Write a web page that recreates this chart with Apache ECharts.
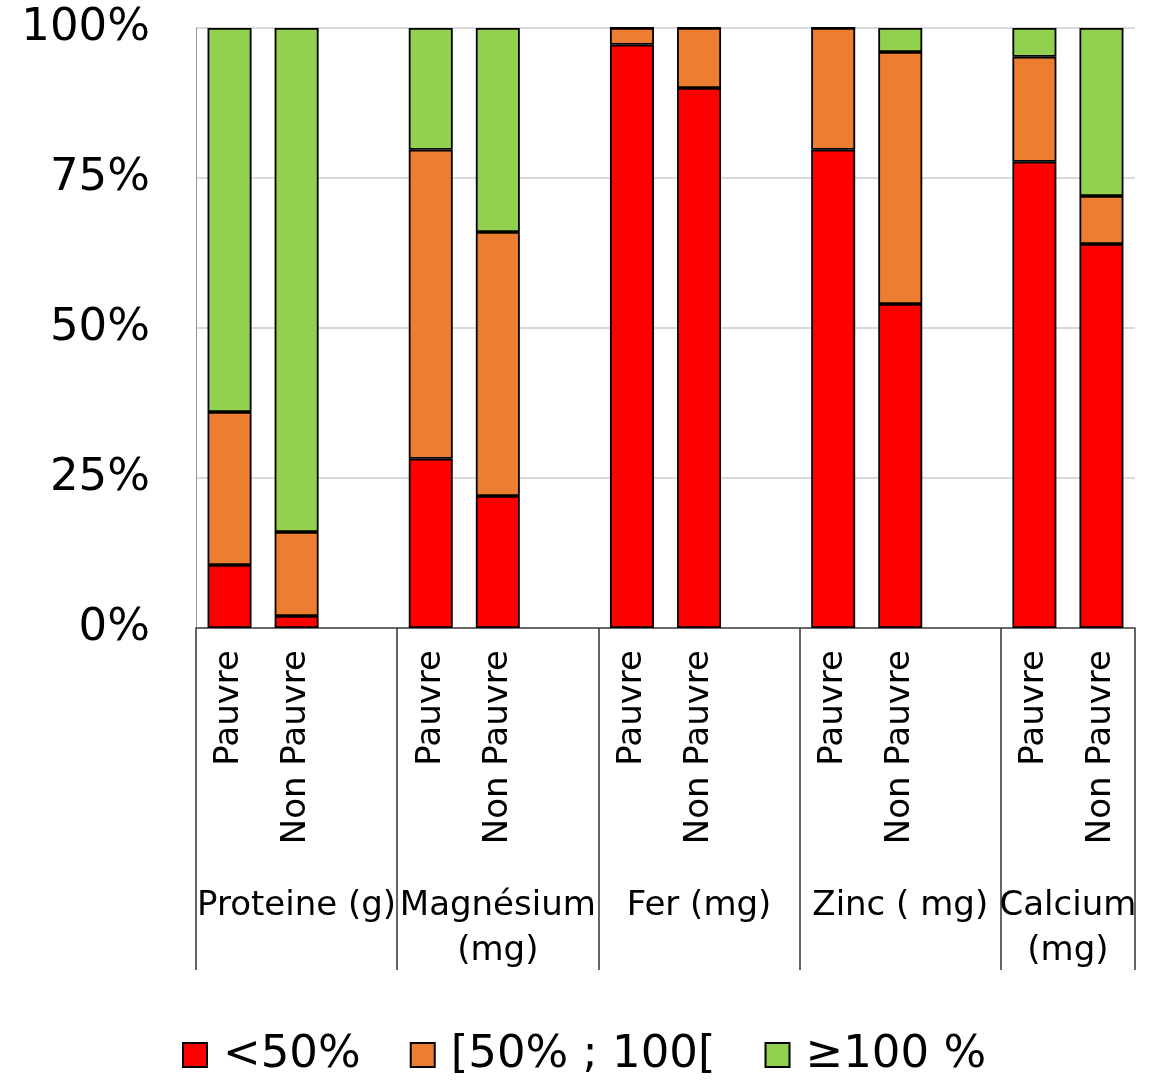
<!DOCTYPE html>
<html><head><meta charset="utf-8">
<script src="https://cdn.jsdelivr.net/npm/echarts@6/dist/echarts.min.js"></script>
<style>html,body{margin:0;padding:0;background:#fff}#c{width:1150px;height:1081px}</style>
</head><body><div id="c"></div>
<script>
const subCategories = ['Pauvre','Non Pauvre','','Pauvre','Non Pauvre','','Pauvre','Non Pauvre','','Pauvre','Non Pauvre','','Pauvre','Non Pauvre'];
const groups = ['Proteine (g)','Magnésium\n(mg)','Fer (mg)','Zinc ( mg)','Calcium\n(mg)'];
const groupBounds = [0, 3, 6, 9, 12, 14];
const seriesNames = ['<50%','[50% ; 100[','≥100 %'];
const below50 = [10.5, 2, null, 28.2, 22, null, 97.2, 90, null, 79.7, 54, null, 77.7, 64];
const between = [25.5, 14, null, 51.5, 44, null, 2.8, 10, null, 20.3, 42, null, 17.5, 8];
const above100 = [64, 84, null, 20.3, 34, null, 0, 0, null, 0, 4, null, 4.8, 28];
const yTicks = [0, 25, 50, 75, 100];

const FONT = 'DejaVu Sans';
const colors = ['#FF0000','#ED7D31','#92D050'];
const groupCenters = groups.map((g, i) => (groupBounds[i] + groupBounds[i + 1]) / 2);
const chart = echarts.init(document.getElementById('c'));
const mk = (name, data, i) => ({
  name, type: 'bar', stack: 'total', data, barWidth: 44, xAxisIndex: 0,
  itemStyle: { color: colors[i], borderColor: '#000', borderWidth: 1.8 }
});
chart.setOption({
  animation: false,
  textStyle: { fontFamily: FONT },
  grid: { left: 196, right: 15, top: 28, bottom: 453, containLabel: false },
  legend: {
    top: 1032, left: 182, padding: 0, icon: 'rect', itemWidth: 24, itemHeight: 24, itemGap: 49,
    textStyle: { fontFamily: FONT, fontSize: 45, lineHeight: 46, color: '#000', padding: [0, 0, 0, 11] },
    data: seriesNames
  },
  xAxis: [
    {
      type: 'category', data: subCategories, position: 'bottom',
      axisLine: { show: true, lineStyle: { color: '#444', width: 1.5 } },
      axisTick: { show: false },
      axisLabel: { interval: 0, rotate: 90, margin: 22, fontFamily: FONT, fontSize: 34, color: '#000' }
    },
    {
      type: 'value', min: 0, max: groupBounds[groupBounds.length - 1], position: 'bottom',
      axisLine: { show: false },
      splitLine: { show: false },
      axisTick: { show: true, customValues: groupBounds, length: 342, lineStyle: { color: '#333', width: 1.5 } },
      axisLabel: { customValues: groupCenters, margin: 256, fontFamily: FONT, fontSize: 34, color: '#000', lineHeight: 45,
        formatter: v => { const i = groupCenters.indexOf(v); return i >= 0 ? groups[i] : ''; } }
    }
  ],
  yAxis: {
    type: 'value', min: 0, max: 100, interval: 25,
    axisLine: { show: true, lineStyle: { color: '#999', width: 1 } },
    axisTick: { show: false },
    splitLine: { show: true, lineStyle: { color: '#d9d9d9', width: 2 } },
    axisLabel: { margin: 46, fontFamily: FONT, fontSize: 45, color: '#000',
      formatter: v => yTicks.includes(v) ? v + '%' : '' }
  },
  series: [mk(seriesNames[0], below50, 0), mk(seriesNames[1], between, 1), mk(seriesNames[2], above100, 2)]
});
</script></body></html>
